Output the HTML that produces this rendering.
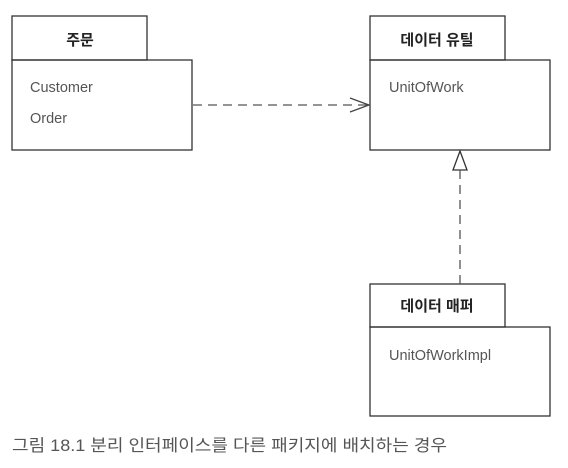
<!DOCTYPE html>
<html><head><meta charset="utf-8"><style>
html,body{margin:0;padding:0;background:#fff;width:568px;height:468px;overflow:hidden}
</style></head><body>
<svg width="568" height="468" xmlns="http://www.w3.org/2000/svg" style="font-family:'Liberation Sans','Noto Sans CJK KR',sans-serif">
<g fill="none" stroke="#333" stroke-width="1.3">
<rect x="12" y="16" width="135" height="44"/>
<rect x="12" y="60" width="180" height="90"/>
<rect x="370" y="16" width="135" height="44"/>
<rect x="370" y="60" width="180" height="90"/>
<rect x="370" y="284" width="135" height="43"/>
<rect x="370" y="327" width="180" height="89"/>
<line x1="193" y1="105" x2="369" y2="105" stroke="#555" stroke-dasharray="9,6"/>
<polyline points="350,98 369,105 350,112" stroke="#444"/>
<polygon points="460,151 453,170 467,170" fill="#fff"/>
<line x1="460" y1="170" x2="460" y2="284" stroke="#555" stroke-dasharray="9,6"/>
</g>
<g font-size="15" fill="#222" text-anchor="middle" font-weight="bold">
<text x="80" y="45">주문</text>
<text x="437" y="45">데이터 유틸</text>
<text x="437" y="311">데이터 매퍼</text>
</g>
<g font-size="14.5" fill="#555">
<text x="30" y="92">Customer</text>
<text x="30" y="123">Order</text>
<text x="389" y="92">UnitOfWork</text>
<text x="389" y="360">UnitOfWorkImpl</text>
</g>
<text x="12" y="451" font-size="16.5" fill="#555" textLength="435" lengthAdjust="spacingAndGlyphs">그림 18.1 분리 인터페이스를 다른 패키지에 배치하는 경우</text>
</svg>
</body></html>
